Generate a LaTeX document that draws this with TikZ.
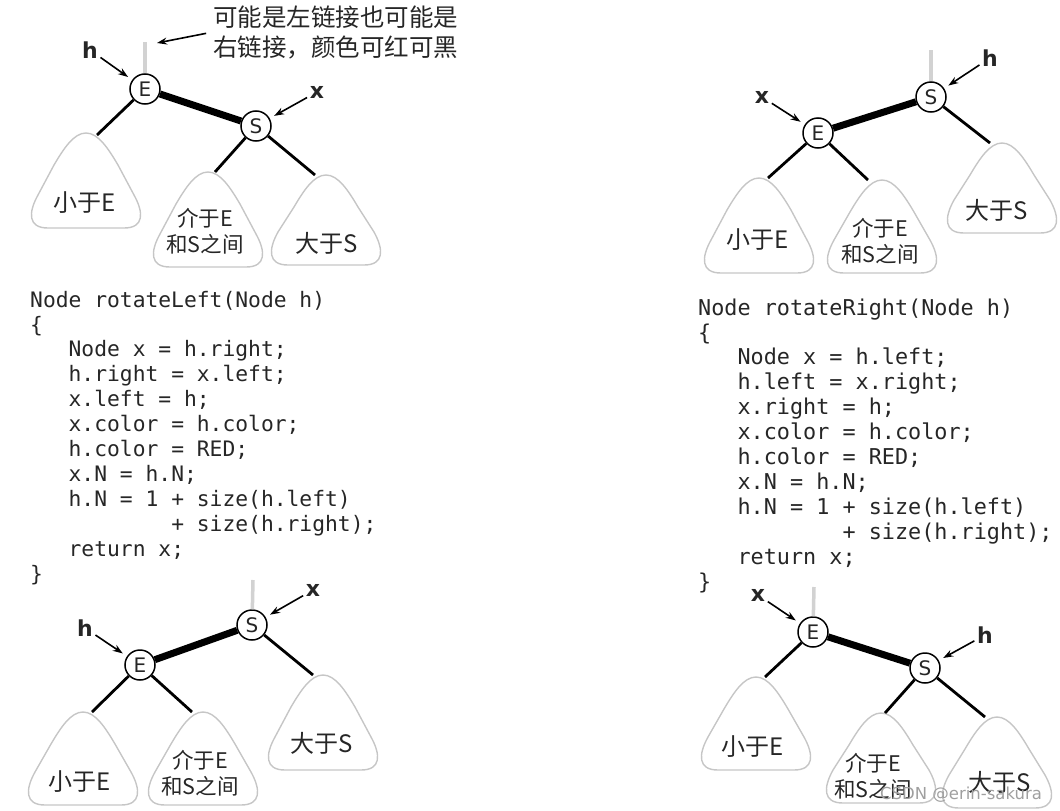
\documentclass[tikz,border=0pt]{standalone}
\usepackage{fontspec}
\setmainfont{DejaVu Sans}
\newfontfamily\cjk{Noto Sans CJK SC}
\newfontfamily\codefont{DejaVu Sans Mono}
\usetikzlibrary{arrows.meta}

\tikzset{
  key/.style={circle, draw, line width=1.5pt, fill=white, minimum size=30pt, inner sep=0pt, font=\fontsize{20}{20}\selectfont},
  link/.style={line width=2.8pt},
  redlink/.style={line width=7pt},
  parentlink/.style={line width=3.5pt, gray!35},
  pointer/.style={line width=1.6pt, -{Stealth[length=10pt,width=7pt]}, shorten >=5pt, shorten <=3pt},
  ptrlabel/.style={font=\bfseries\fontsize{22}{22}\selectfont, inner sep=0pt},
  subtree/.style={draw=gray!45, line width=1.4pt},
  treetext/.style={font=\cjk\fontsize{24}{26}\selectfont, align=center, inner sep=0pt},
  twoline/.style={treetext, font=\cjk\fontsize{21.5}{26}\selectfont},
  code/.style={font=\codefont\fontsize{21.3}{24.9}\selectfont, align=left, anchor=base west, inner sep=0pt}
}

% rounded triangle: apex x, apex y, bottom y
\newcommand{\subtree}[3]{%
  \draw[subtree] (#1,#2) .. controls (#1+12,#2) and (#1+22,#2+15) .. (#1+32,#2+32)
    -- (#1+48,#3-33) .. controls (#1+58,#3-15) and (#1+58,#3) .. (#1+38,#3)
    -- (#1-38,#3) .. controls (#1-58,#3) and (#1-58,#3-15) .. (#1-48,#3-33)
    -- (#1-32,#2+32) .. controls (#1-22,#2+15) and (#1-12,#2) .. (#1,#2) -- cycle;
}
\newcommand{\ind}{\hphantom{000}}

\begin{document}
\begin{tikzpicture}[x=1pt, y=-1pt, every node/.style={text=black!85}]
\useasboundingbox (0,0) rectangle (1060,811);

% ---- rotateLeft, before
\subtree{86}{133}{228}
\subtree{208}{172}{267}
\subtree{326}{175}{265}
\node[treetext] (lo1) at (85,203) {小于E};
\node[twoline] (mid1) at (205,231) {介于E\\和S之间};
\node[treetext] (hi1) at (327,243) {大于S};
\coordinate (top1) at (145,42);
\coordinate (a1) at (97,135);
\coordinate (b1) at (215,172);
\coordinate (c1) at (315,175);
\node[key] (E1) at (145,89) {E};
\node[key] (S1) at (256,126) {S};
\draw[parentlink] (top1) -- (E1);
\draw[redlink] (E1) -- (S1);
\draw[link] (E1) -- (a1);
\draw[link] (S1) -- (b1);
\draw[link] (S1) -- (c1);
\node[ptrlabel] (h1) at (90,50) {h};
\node[ptrlabel] (x1) at (317,92) {x};
\draw[pointer] (h1) -- (E1);
\draw[pointer] (x1) -- (S1);
\node[font=\cjk\fontsize{24.5}{30}\selectfont, align=left, anchor=base west, inner sep=0pt] (note) at (213,56) {可能是左链接也可能是\\右链接，颜色可红可黑};
\coordinate (tip1) at (157,43);
\draw[pointer, shorten >=0pt, shorten <=7pt] (note.west) -- (tip1);

% ---- rotateRight, before
\subtree{759}{178}{273}
\subtree{882}{180}{273}
\subtree{1002}{143}{233}
\node[treetext] (lo2) at (758,240) {小于E};
\node[twoline] (mid2) at (880,241) {介于E\\和S之间};
\node[treetext] (hi2) at (997,210) {大于S};
\coordinate (top2) at (931,50);
\coordinate (a2) at (768,178);
\coordinate (b2) at (868,180);
\coordinate (c2) at (990,143);
\node[key] (E2) at (818,133) {E};
\node[key] (S2) at (931,97) {S};
\draw[parentlink] (top2) -- (S2);
\draw[redlink] (E2) -- (S2);
\draw[link] (E2) -- (a2);
\draw[link] (E2) -- (b2);
\draw[link] (S2) -- (c2);
\node[ptrlabel] (h2) at (990,58) {h};
\node[ptrlabel] (x2) at (762,97) {x};
\draw[pointer] (h2) -- (S2);
\draw[pointer] (x2) -- (E2);

% ---- code
\node[code] (left code) at (30,581) {Node rotateLeft(Node h)\\
\{\\
\ind Node x = h.right;\\
\ind h.right = x.left;\\
\ind x.left = h;\\
\ind x.color = h.color;\\
\ind h.color = RED;\\
\ind x.N = h.N;\\
\ind h.N = 1 + size(h.left)\\
\hphantom{00000000000}+ size(h.right);\\
\ind return x;\\
\}};
\node[code, font=\codefont\fontsize{21.8}{24.9}\selectfont] (right code) at (698,589) {Node rotateRight(Node h)\\
\{\\
\ind Node x = h.left;\\
\ind h.left = x.right;\\
\ind x.right = h;\\
\ind x.color = h.color;\\
\ind h.color = RED;\\
\ind x.N = h.N;\\
\ind h.N = 1 + size(h.left)\\
\hphantom{00000000000}+ size(h.right);\\
\ind return x;\\
\}};

% ---- rotateLeft, after
\subtree{83}{712}{805}
\subtree{203}{712}{805}
\subtree{323}{675}{770}
\node[treetext] (lo3) at (80,782) {小于E};
\node[twoline] (mid3) at (200,773) {介于E\\和S之间};
\node[treetext] (hi3) at (322,743) {大于S};
\coordinate (top3) at (253,580);
\coordinate (a3) at (92,712);
\coordinate (b3) at (192,712);
\coordinate (c3) at (313,675);
\node[key] (E3) at (140,665) {E};
\node[key] (S3) at (252,625) {S};
\draw[parentlink] (top3) -- (S3);
\draw[redlink] (E3) -- (S3);
\draw[link] (E3) -- (a3);
\draw[link] (E3) -- (b3);
\draw[link] (S3) -- (c3);
\node[ptrlabel] (h3) at (85,628) {h};
\node[ptrlabel] (x3) at (313,590) {x};
\draw[pointer] (h3) -- (E3);
\draw[pointer] (x3) -- (S3);

% ---- rotateRight, after
\subtree{756}{677}{770}
\subtree{881}{713}{803}
\subtree{997}{717}{808}
\node[treetext] (lo4) at (753,747) {小于E};
\node[twoline] (mid4) at (873,776) {介于E\\和S之间};
\node[treetext] (hi4) at (1000,782) {大于S};
\coordinate (top4) at (814,587);
\coordinate (a4) at (765,677);
\coordinate (b4) at (885,713);
\coordinate (c4) at (985,717);
\node[key] (E4) at (813,632) {E};
\node[key] (S4) at (925,668) {S};
\draw[parentlink] (top4) -- (E4);
\draw[redlink] (E4) -- (S4);
\draw[link] (E4) -- (a4);
\draw[link] (S4) -- (b4);
\draw[link] (S4) -- (c4);
\node[ptrlabel] (h4) at (985,635) {h};
\node[ptrlabel] (x4) at (758,595) {x};
\draw[pointer] (h4) -- (S4);
\draw[pointer] (x4) -- (E4);

\node[font=\fontsize{16.5}{16.5}\selectfont, text=gray!75, inner sep=0pt] (mark) at (961,795) {CSDN @erin-sakura};
\end{tikzpicture}
\end{document}
